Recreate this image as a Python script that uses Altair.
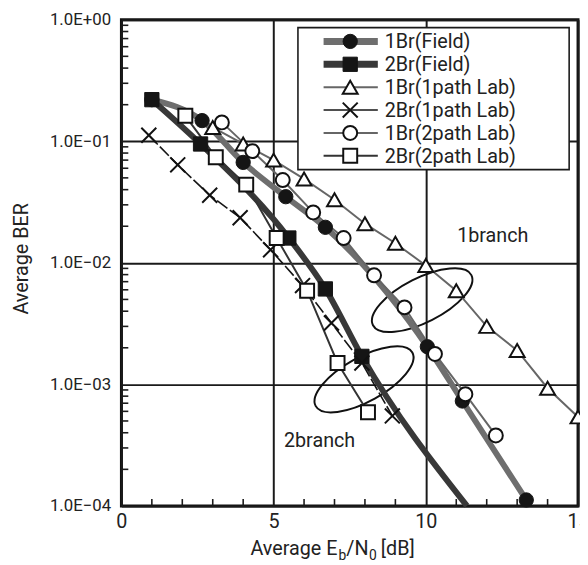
import altair as alt
import pandas as pd

FONT = "Roboto"
TXT = "#222222"
W, H = 463, 493

# ---------------- data ----------------
fld1_x = [1.0, 2.65, 4.0, 5.4, 6.7, 10.05, 11.2, 13.3]
fld1_y = [0.22, 0.148, 0.067, 0.035, 0.0196, 0.00204, 0.00073, 0.000112]

fld2_x = [1.0, 2.6, 5.5, 6.7, 7.9]
fld2_y = [0.22, 0.095, 0.016, 0.0061, 0.0017]
fld2_tail_x = [11.35]          # line continues to the bottom edge
fld2_tail_y = [0.0001]

lab1p1_x = [3, 4, 5, 6, 7, 8, 9, 10, 11, 12, 13, 14, 15]
lab1p1_y = [0.13, 0.095, 0.07, 0.049, 0.033, 0.021, 0.0145, 0.0095, 0.0059,
            0.0030, 0.0019, 0.00093, 0.00054]

lab2p1_x = [0.9, 1.85, 2.9, 3.9, 4.9, 5.95, 6.9, 7.9, 8.9]
lab2p1_y = [0.112, 0.064, 0.036, 0.0235, 0.0128, 0.0065, 0.0032, 0.0015, 0.00055]

lab1p2_x = [3.3, 4.3, 5.3, 6.3, 7.3, 8.3, 9.3, 10.3, 11.3, 12.3]
lab1p2_y = [0.143, 0.083, 0.048, 0.026, 0.016, 0.0079, 0.0043, 0.00178, 0.00083, 0.00038]

lab2p2_x = [2.1, 3.1, 4.1, 5.1, 6.1, 7.1, 8.1]
lab2p2_y = [0.162, 0.074, 0.044, 0.016, 0.0059, 0.0015, 0.00059]

names = ["1Br(Field)", "2Br(Field)", "1Br(1path Lab)", "2Br(1path Lab)",
         "1Br(2path Lab)", "2Br(2path Lab)"]

x_ticks = [0, 5, 10, 15]
y_ticks = [0.0001, 0.001, 0.01, 0.1, 1.0]
x_minor = [1, 2, 3, 4, 6, 7, 8, 9, 11, 12, 13, 14]
y_minor = [m * 10.0 ** k for k in (-4, -3, -2, -1) for m in range(2, 10)]

ann_text = ["1branch", "2branch"]
ann_x = [12.2, 6.51]
ann_y = [0.0166, 0.00034]

ell_x = [9.88, 7.97]
ell_y = [0.00493, 0.0011]
ell_angle = [333, 331]

# ---------------- styles ----------------
XSHAPE = "M-1,-1L1,1M-1,1L1,-1"
ELLIPSE = ("M-1,0C-1,-0.221,-0.552,-0.4,0,-0.4C0.552,-0.4,1,-0.221,1,0"
           "C1,0.221,0.552,0.4,0,0.4C-0.552,0.4,-1,0.221,-1,0Z")

styles = {
    "1Br(Field)": dict(lc="#6e6e6e", lw=6, dash=None, shape="circle", fill="#151515", size=210, interp="monotone"),
    "2Br(Field)": dict(lc="#383838", lw=6, dash=None, shape="square", fill="#151515", size=210, interp="monotone"),
    "1Br(1path Lab)": dict(lc="#666666", lw=2, dash=None, shape="triangle-up", fill="white", size=230, interp="linear"),
    "2Br(1path Lab)": dict(lc="#151515", lw=1.6, dash=[13, 3], shape=XSHAPE, fill=None, size=230, interp="linear"),
    "1Br(2path Lab)": dict(lc="#666666", lw=2, dash=None, shape="circle", fill="white", size=200, interp="linear"),
    "2Br(2path Lab)": dict(lc="#333333", lw=2, dash=None, shape="square", fill="white", size=200, interp="linear"),
}

line_data = {
    "1Br(Field)": (fld1_x, fld1_y),
    "2Br(Field)": (fld2_x + fld2_tail_x, fld2_y + fld2_tail_y),
    "1Br(1path Lab)": (lab1p1_x, lab1p1_y),
    "2Br(1path Lab)": (lab2p1_x, lab2p1_y),
    "1Br(2path Lab)": (lab1p2_x, lab1p2_y),
    "2Br(2path Lab)": (lab2p2_x, lab2p2_y),
}
point_data = {
    "1Br(Field)": (fld1_x, fld1_y),
    "2Br(Field)": (fld2_x, fld2_y),
    "1Br(1path Lab)": (lab1p1_x, lab1p1_y),
    "2Br(1path Lab)": (lab2p1_x, lab2p1_y),
    "1Br(2path Lab)": (lab1p2_x, lab1p2_y),
    "2Br(2path Lab)": (lab2p2_x, lab2p2_y),
}

# ---------------- scales & axes ----------------
x_axis = alt.Axis(values=x_ticks, grid=True, gridColor="#1a1a1a", gridWidth=2,
                  ticks=False, tickSize=0, domain=False, labelFont=FONT,
                  labelFontSize=20, labelColor=TXT, labelPadding=6,
                  labelFlush=False, title=None)
y_axis = alt.Axis(values=y_ticks, grid=True, gridColor="#1a1a1a", gridWidth=2,
                  ticks=False, tickSize=0, domain=False, labelFont=FONT,
                  labelFontSize=17, labelColor=TXT, labelPadding=11,
                  labelFlush=False,
                  labelExpr='datum.value >= 1 ? "1.0E+00" : "1.0E\u2212" + "0" + round(-log(datum.value)/LN10)',
                  title="Average BER", titleFont=FONT, titleFontSize=20,
                  titleFontWeight="normal", titleColor=TXT, titleAngle=270,
                  titleX=-95, titleY=242, titleAlign="center",
                  titleBaseline="alphabetic")

X = alt.X("x:Q", scale=alt.Scale(domain=[0, 15], nice=False, zero=False), axis=x_axis)
Y = alt.Y("y:Q", scale=alt.Scale(type="log", domain=[0.0001, 1], nice=False), axis=y_axis)

layers = []

# minor ticks (inside)
layers.append(alt.Chart(pd.DataFrame({"y": y_minor})).mark_rule(color="#1a1a1a", strokeWidth=1.6)
              .encode(y=Y, x=alt.value(0), x2=alt.value(7)))
layers.append(alt.Chart(pd.DataFrame({"x": x_minor})).mark_rule(color="#1a1a1a", strokeWidth=1.6)
              .encode(x=X, y=alt.value(H), y2=alt.value(H - 7)))

# ellipses
for ex, ey, ea in zip(ell_x, ell_y, ell_angle):
    layers.append(alt.Chart(pd.DataFrame({"x": [ex], "y": [ey]}))
                  .mark_point(shape=ELLIPSE, size=12544, filled=False, stroke="#111111",
                              strokeWidth=2, angle=ea, opacity=1)
                  .encode(x=X, y=Y))

# lines
for n in names:
    s = styles[n]
    xs, ys = line_data[n]
    kw = dict(color=s["lc"], strokeWidth=s["lw"], interpolate=s["interp"])
    if s["dash"]:
        kw["strokeDash"] = s["dash"]
    layers.append(alt.Chart(pd.DataFrame({"x": xs, "y": ys})).mark_line(**kw).encode(x=X, y=Y))

# markers
def point_mark(n):
    s = styles[n]
    if s["fill"] is None:
        return dict(shape=s["shape"], size=s["size"], filled=False, stroke="#111111",
                    strokeWidth=2, opacity=1)
    if s["fill"] == "white":
        return dict(shape=s["shape"], size=s["size"], filled=True, fill="white",
                    stroke="#111111", strokeWidth=2, opacity=1)
    return dict(shape=s["shape"], size=s["size"], filled=True, fill=s["fill"],
                stroke=s["fill"], strokeWidth=1, opacity=1)

for n in names:
    xs, ys = point_data[n]
    layers.append(alt.Chart(pd.DataFrame({"x": xs, "y": ys})).mark_point(**point_mark(n))
                  .encode(x=X, y=Y))

# annotation texts
layers.append(alt.Chart(pd.DataFrame({"x": ann_x, "y": ann_y, "t": ann_text}))
              .mark_text(font=FONT, fontSize=20, color=TXT, align="center", baseline="middle")
              .encode(x=X, y=Y, text="t:N"))

# legend
one = pd.DataFrame({"a": [0]})
layers.append(alt.Chart(one).mark_rect(fill="white", stroke="#1a1a1a", strokeWidth=1.6)
              .encode(x=alt.value(179), x2=alt.value(454), y=alt.value(8), y2=alt.value(152)))
for i, n in enumerate(names):
    s = styles[n]
    yy = 22 + 23.2 * i
    kw = dict(color=s["lc"], strokeWidth=s["lw"] + (1 if s["lw"] > 3 else 0))
    layers.append(alt.Chart(one).mark_rule(**kw)
                  .encode(x=alt.value(205), x2=alt.value(260), y=alt.value(yy)))
    layers.append(alt.Chart(one).mark_point(**point_mark(n))
                  .encode(x=alt.value(232), y=alt.value(yy)))
    layers.append(alt.Chart(one).mark_text(text=n, font=FONT, fontSize=20, color=TXT,
                                           align="left", baseline="middle")
                  .encode(x=alt.value(267), y=alt.value(yy + 1)))

# x-axis title with subscripts
title_parts = [("Average E", 219, 543, 20, "right"),
               ("b", 220, 548, 14, "left"),
               ("/N", 228, 543, 20, "left"),
               ("0", 251, 548, 14, "left"),
               ("[dB]", 263, 543, 20, "left")]
for t, px, py, fs, al in title_parts:
    layers.append(alt.Chart(one).mark_text(text=t, font=FONT, fontSize=fs, color=TXT,
                                           align=al, baseline="alphabetic")
                  .encode(x=alt.value(px), y=alt.value(py)))

chart = alt.layer(*layers).properties(
    width=W, height=H,
    autosize=alt.AutoSizeParams(type="none"),
    padding={"left": 115, "top": 8, "right": 2, "bottom": 56},
).configure_view(stroke="#111111", strokeWidth=3)

chart.save("out.html", embed_options={"renderer": "svg", "actions": False})
